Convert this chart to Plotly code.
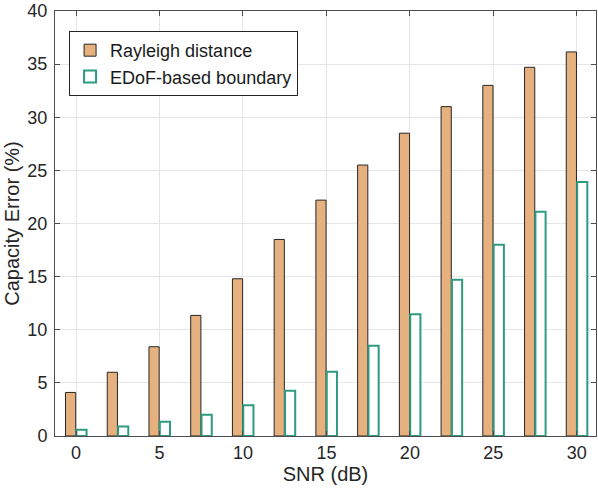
import plotly.graph_objects as go

snr = [0, 2.5, 5, 7.5, 10, 12.5, 15, 17.5, 20, 22.5, 25, 27.5, 30]
rayleigh = [4.1, 6.0, 8.4, 11.35, 14.8, 18.5, 22.2, 25.5, 28.5, 31.0, 33.0, 34.7, 36.15]
edof = [0.6, 0.9, 1.35, 2.0, 2.9, 4.25, 6.05, 8.5, 11.45, 14.7, 18.0, 21.1, 23.9]

x_ticks = [0, 5, 10, 15, 20, 25, 30]
y_ticks = [0, 5, 10, 15, 20, 25, 30, 35, 40]

font = "Liberation Sans, Arial, sans-serif"
axis_col = "#4d4d4d"

fig = go.Figure()
fig.add_trace(go.Bar(x=snr, y=rayleigh, name="Rayleigh distance",
                     marker=dict(color="#e6b17e",
                                 line=dict(color="#262626", width=1))))
fig.add_trace(go.Bar(x=snr, y=edof, name="EDoF-based boundary",
                     marker=dict(color="white",
                                 line=dict(color="#2e9a80", width=2))))

fig.update_layout(
    width=598, height=496,
    margin=dict(l=55, r=1, t=9, b=60),
    paper_bgcolor="white", plot_bgcolor="white",
    barmode="group", bargap=0.48, bargroupgap=0.06,
    font=dict(family=font, size=18, color="#262626"),
    showlegend=True,
    legend=dict(x=0.026, y=0.953, xanchor="left", yanchor="top",
                bgcolor="white", bordercolor="#262626", borderwidth=1,
                font=dict(size=18, color="#1a1a1a"),
                tracegroupgap=0, itemwidth=30),
)
fig.update_xaxes(
    range=[-1.26, 31.15], tickvals=x_ticks, ticks="inside", ticklen=5,
    tickcolor=axis_col, showline=True, linecolor=axis_col, mirror="ticks",
    showgrid=True, gridcolor="#e6e6e6", zeroline=False,
    ticklabeloverflow="allow",
    title=dict(text="SNR (dB)", font=dict(size=20), standoff=4),
    tickfont=dict(size=18, color="#262626"),
)
fig.update_yaxes(
    range=[0, 40], tickvals=y_ticks, ticks="inside", ticklen=5,
    tickcolor=axis_col, showline=True, linecolor=axis_col, mirror="ticks",
    showgrid=True, gridcolor="#e6e6e6", zeroline=False,
    ticklabelstandoff=3, ticklabeloverflow="allow",
    title=dict(text="Capacity Error (%)", font=dict(size=20), standoff=2),
    tickfont=dict(size=18, color="#262626"),
)

fig.write_html("out.html", config={"displayModeBar": False},
               post_script="document.body.style.margin='0';"
                           "document.body.style.overflow='hidden';")
